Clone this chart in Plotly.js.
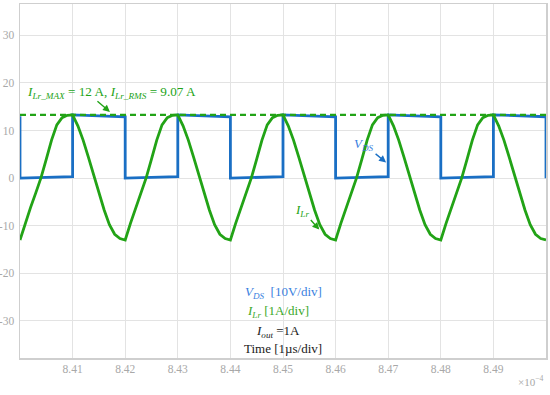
<!DOCTYPE html>
<html>
<head>
<meta charset="utf-8">
<script src="https://cdn.plot.ly/plotly-3.0.1.min.js"></script>
<style>html,body{margin:0;padding:0;background:#fff;}#chart{width:550px;height:395px;}</style>
</head>
<body>
<div id="chart"></div>
<script>
// Time axis (units of 1e-4 s)
var ilrTime = [
 8.400,8.401,8.402,8.403,8.404,8.405,8.406,8.407,8.408,8.409,
 8.410,8.411,8.412,8.413,8.414,8.415,8.416,8.417,8.418,8.419,
 8.420,8.421,8.422,8.423,8.424,8.425,8.426,8.427,8.428,8.429,
 8.430,8.431,8.432,8.433,8.434,8.435,8.436,8.437,8.438,8.439,
 8.440,8.441,8.442,8.443,8.444,8.445,8.446,8.447,8.448,8.449,
 8.450,8.451,8.452,8.453,8.454,8.455,8.456,8.457,8.458,8.459,
 8.460,8.461,8.462,8.463,8.464,8.465,8.466,8.467,8.468,8.469,
 8.470,8.471,8.472,8.473,8.474,8.475,8.476,8.477,8.478,8.479,
 8.480,8.481,8.482,8.483,8.484,8.485,8.486,8.487,8.488,8.489,
 8.490,8.491,8.492,8.493,8.494,8.495,8.496,8.497,8.498,8.499,
 8.500];
// Resonant inductor current I_Lr (display units, 1A/div)
var ilrValues = [
 -13.0,-9.5,-6.2,-3.1,0.1,4.0,8.0,11.2,12.7,13.2,
 13.3,11.0,8.0,4.4,0.7,-3.0,-6.7,-9.8,-11.8,-12.7,
 -13.0,-9.5,-6.2,-3.1,0.1,4.0,8.0,11.2,12.7,13.2,
 13.3,11.0,8.0,4.4,0.7,-3.0,-6.7,-9.8,-11.8,-12.7,
 -13.0,-9.5,-6.2,-3.1,0.1,4.0,8.0,11.2,12.7,13.2,
 13.3,11.0,8.0,4.4,0.7,-3.0,-6.7,-9.8,-11.8,-12.7,
 -13.0,-9.5,-6.2,-3.1,0.1,4.0,8.0,11.2,12.7,13.2,
 13.3,11.0,8.0,4.4,0.7,-3.0,-6.7,-9.8,-11.8,-12.7,
 -13.0,-9.5,-6.2,-3.1,0.1,4.0,8.0,11.2,12.7,13.2,
 13.3,11.0,8.0,4.4,0.7,-3.0,-6.7,-9.8,-11.8,-12.7,
 -13.0];
// Drain-source voltage V_DS (display units, 10V/div)
var vdsTime = [8.40,8.40,8.41,8.41,8.42,8.42,8.43,8.43,8.44,8.44,8.45,8.45,
               8.46,8.46,8.47,8.47,8.48,8.48,8.49,8.49,8.50,8.50];
var vdsValues = [13.0,0.0,0.3,13.3,12.9,0.0,0.3,13.3,12.9,0.0,0.3,13.3,
                 12.9,0.0,0.3,13.3,12.9,0.0,0.3,13.3,12.9,0.0];
// Peak line
var peakTime = [8.40, 8.50];
var peakValues = [13.3, 13.3];

var xTicks = [8.41,8.42,8.43,8.44,8.45,8.46,8.47,8.48,8.49];
var xTickText = ['8.41','8.42','8.43','8.44','8.45','8.46','8.47','8.48','8.49'];
var yTicks = [-30,-20,-10,0,10,20,30];
var yTickText = ['-30','-20','-10','0','10','20','30'];

var blue = '#1a6fc4';
var green = '#22a316';
var serif = 'Liberation Serif, Times New Roman, serif';

var traces = [
 {x: vdsTime, y: vdsValues, mode: 'lines', line: {color: blue, width: 2.8}, hoverinfo: 'skip'},
 {x: ilrTime, y: ilrValues, mode: 'lines', line: {color: green, width: 2.8}, hoverinfo: 'skip'},
 {x: peakTime, y: peakValues, mode: 'lines', line: {color: green, width: 2.4, dash: '6px,4px'}, hoverinfo: 'skip'}
];

function px2x(px){ return (px-20)/526; }
function py2y(py){ return (358-py)/354; }

var layout = {
 width: 550, height: 395,
 margin: {l: 20, r: 4, t: 4, b: 37},
 paper_bgcolor: '#fff', plot_bgcolor: '#fff',
 showlegend: false,
 font: {family: serif, color: '#a8a8a8', size: 11},
 xaxis: {range: [8.40, 8.50], tickvals: xTicks, ticktext: xTickText,
   showgrid: true, gridcolor: '#e3e3e3', gridwidth: 1, zeroline: false,
   showline: true, linecolor: '#cfcfcf', linewidth: 1.5, mirror: true,
   ticks: '', tickfont: {family: serif, size: 11.5, color: '#a8a8a8'}},
 yaxis: {range: [-37.8, 36.6], tickvals: yTicks, ticktext: yTickText,
   showgrid: true, gridcolor: '#e3e3e3', gridwidth: 1, zeroline: false,
   showline: true, linecolor: '#cfcfcf', linewidth: 1.5, mirror: true,
   ticks: '', ticklabelstandoff: 2, tickfont: {family: serif, size: 11.5, color: '#a8a8a8'}},
 annotations: [
  {xref: 'paper', yref: 'paper', x: px2x(111), y: py2y(93), xanchor: 'center', yanchor: 'middle',
   text: '<i>I<sub>Lr_MAX</sub></i> = 12 A, <i>I<sub>Lr_RMS</sub></i> = 9.07 A', showarrow: false,
   font: {family: serif, size: 13.2, color: green}},
  {x: 8.4171, y: 13.9, xref: 'x', yref: 'y', text: '', showarrow: true, arrowhead: 2, arrowsize: 1, arrowwidth: 1.4,
   arrowcolor: green, ax: -14, ay: -12},
  {x: 8.4696, y: 3.3, xref: 'x', yref: 'y', text: '<i>V<sub>DS</sub></i>', showarrow: true, arrowhead: 2, arrowsize: 1, arrowwidth: 1.4,
   arrowcolor: blue, ax: -22, ay: -18, font: {family: serif, size: 13, color: '#3b7fe0'}},
  {x: 8.4569, y: -10.8, xref: 'x', yref: 'y', text: '<i>I<sub>Lr</sub></i>', showarrow: true, arrowhead: 2, arrowsize: 1, arrowwidth: 1.4,
   arrowcolor: green, ax: -17, ay: -19, font: {family: serif, size: 13, color: green}},
  {xref: 'paper', yref: 'paper', x: px2x(283), y: py2y(292), xanchor: 'center', yanchor: 'middle',
   text: '<i>V<sub>DS</sub></i>  [10V/div]', showarrow: false, font: {family: serif, size: 13, color: '#3b7fe0'}},
  {xref: 'paper', yref: 'paper', x: px2x(278), y: py2y(311), xanchor: 'center', yanchor: 'middle',
   text: '<i>I<sub>Lr</sub></i> [1A/div]', showarrow: false, font: {family: serif, size: 13, color: '#3aa82a'}},
  {xref: 'paper', yref: 'paper', x: px2x(278), y: py2y(331), xanchor: 'center', yanchor: 'middle',
   text: '<i>I<sub>out</sub></i> =1A', showarrow: false, font: {family: serif, size: 13, color: '#1a1a1a'}},
  {xref: 'paper', yref: 'paper', x: px2x(283), y: py2y(348), xanchor: 'center', yanchor: 'middle',
   text: 'Time [1µs/div]', showarrow: false, font: {family: serif, size: 13, color: '#1a1a1a'}},
  {xref: 'paper', yref: 'paper', x: 1, y: py2y(381), xanchor: 'right', yanchor: 'middle',
   text: '×10<sup>−4</sup>', showarrow: false, font: {family: serif, size: 11, color: '#a8a8a8'}}
 ]
};

Plotly.newPlot('chart', traces, layout, {displayModeBar: false, staticPlot: true});
</script>
</body>
</html>
